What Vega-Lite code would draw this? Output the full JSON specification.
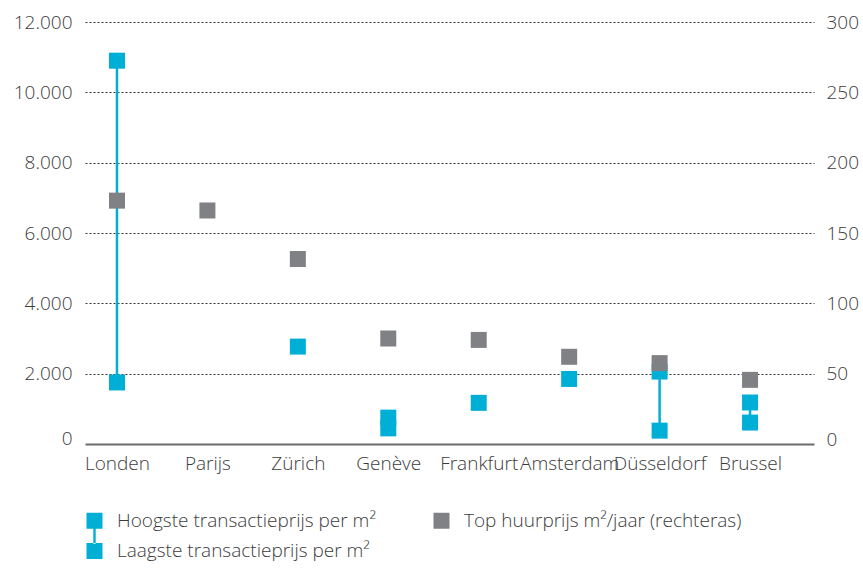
{
  "$schema": "https://vega.github.io/schema/vega-lite/v6.json",
  "autosize": {"type": "none"},
  "padding": {"left": 85, "top": 22, "right": 49, "bottom": 124},
  "width": 729,
  "height": 422,
  "background": "white",
  "config": {
    "font": "Open Sans",
    "view": {"stroke": null},
    "axis": {"labelFont": "Open Sans", "labelFontSize": 19, "labelFontWeight": 300, "labelColor": "#3c3c3c", "ticks": false, "title": null},
    "legend": {"labelFont": "Open Sans", "labelFontSize": 19, "labelFontWeight": 300, "labelColor": "#3c3c3c"}
  },
  "data": {
    "values": [
      {"stad": "Londen", "hoog": 10900, "laag": 1750, "huur": 173},
      {"stad": "Parijs", "hoog": null, "laag": null, "huur": 166},
      {"stad": "Zürich", "hoog": 2770, "laag": null, "huur": 131.5},
      {"stad": "Genève", "hoog": 750, "laag": 445, "huur": 75},
      {"stad": "Frankfurt", "hoog": 1170, "laag": null, "huur": 74},
      {"stad": "Amsterdam", "hoog": 1850, "laag": null, "huur": 62},
      {"stad": "Düsseldorf", "hoog": 2060, "laag": 380, "huur": 57.5},
      {"stad": "Brussel", "hoog": 1180, "laag": 610, "huur": 45.6}
    ]
  },
  "encoding": {
    "x": {
      "field": "stad",
      "type": "nominal",
      "scale": {
        "type": "point",
        "domain": ["Londen", "Parijs", "Zürich", "Genève", "Frankfurt", "Amsterdam", "Düsseldorf", "Brussel"],
        "padding": 0.5304,
        "align": 0.3333
      },
      "axis": {
        "labelAngle": 0,
        "labelPadding": 10,
        "domain": false,
        "grid": false
      }
    }
  },
  "layer": [
    {
      "layer": [
        {
          "transform": [
            {"fold": ["hoog", "huur", "laag"], "as": ["reeks", "waarde"]},
            {"filter": "datum.stad === 'Londen'"}
          ],
          "mark": {"type": "point", "filled": true, "size": 256, "opacity": 0, "strokeWidth": 0},
          "encoding": {
            "y": {"field": "waarde", "type": "quantitative"},
            "color": {
              "field": "reeks",
              "type": "nominal",
              "scale": {"domain": ["hoog", "huur", "laag"], "range": ["#00AFD5", "#808185", "#00AFD5"]},
              "legend": {
                "title": null,
                "orient": "none",
                "legendX": 0,
                "legendY": 489,
                "columns": 2,
                "direction": "horizontal",
                "columnPadding": 56,
                "rowPadding": -4.5,
                "symbolSize": 256,
                "symbolOpacity": 1,
                "symbolStrokeWidth": 0,
                "labelOffset": 13,
                "labelLimit": 0,
                "labelExpr": "datum.value === 'hoog' ? 'Hoogste transactieprijs per m²' : datum.value === 'huur' ? 'Top huurprijs m²/jaar (rechteras)' : 'Laagste transactieprijs per m²'"
              }
            },
            "shape": {
              "field": "reeks",
              "type": "nominal",
              "scale": {"domain": ["hoog", "huur", "laag"], "range": ["square", "square", "M-1,-1H1V1H-1Z M-0.15,-0.9H0.15V-2.95H-0.15Z"]},
              "legend": {
                "title": null,
                "orient": "none",
                "legendX": 0,
                "legendY": 489,
                "columns": 2,
                "direction": "horizontal",
                "columnPadding": 56,
                "rowPadding": -4.5,
                "symbolSize": 256,
                "symbolOpacity": 1,
                "symbolStrokeWidth": 0,
                "labelOffset": 13,
                "labelLimit": 0,
                "labelExpr": "datum.value === 'hoog' ? 'Hoogste transactieprijs per m²' : datum.value === 'huur' ? 'Top huurprijs m²/jaar (rechteras)' : 'Laagste transactieprijs per m²'"
              }
            }
          }
        },
        {
          "transform": [{"filter": "isValid(datum.hoog) && isValid(datum.laag)"}],
          "mark": {"type": "rule", "color": "#00AFD5", "strokeWidth": 2.5},
          "encoding": {
            "y": {"field": "hoog", "type": "quantitative"},
            "y2": {"field": "laag"}
          }
        },
        {
          "transform": [
            {"fold": ["hoog", "laag"], "as": ["reeks", "waarde"]},
            {"filter": "isValid(datum.waarde)"}
          ],
          "mark": {"type": "square", "size": 256, "opacity": 1, "strokeWidth": 0},
          "encoding": {
            "y": {
              "field": "waarde",
              "type": "quantitative",
              "scale": {"domain": [0, 12000], "nice": false},
              "axis": {
                "orient": "left",
                "values": [0, 2000, 4000, 6000, 8000, 10000, 12000],
                "labelExpr": "replace(format(datum.value, ','), ',', '.')",
                "labelPadding": 13,
                "labelOffset": {"condition": {"test": "datum.value === 0", "value": -6}, "value": 0},
                "domain": false,
                "grid": true,
                "gridColor": {"condition": {"test": "datum.value === 0", "value": "#6b6b6b"}, "value": "#333333"},
                "gridDash": {"condition": {"test": "datum.value === 0", "value": []}, "value": [2, 2]},
                "gridWidth": {"condition": {"test": "datum.value === 0", "value": 2}, "value": 1}
              }
            },
            "color": {"field": "reeks", "type": "nominal", "legend": null}
          }
        }
      ]
    },
    {
      "transform": [
        {"fold": ["huur"], "as": ["reeks", "waarde"]},
        {"filter": "isValid(datum.waarde)"}
      ],
      "mark": {"type": "square", "size": 256, "opacity": 1, "strokeWidth": 0},
      "encoding": {
        "y": {
          "field": "waarde",
          "type": "quantitative",
          "scale": {"domain": [0, 300], "nice": false},
          "axis": {
            "orient": "right",
            "values": [0, 50, 100, 150, 200, 250, 300],
            "labelPadding": 12,
            "labelOffset": {"condition": {"test": "datum.value === 0", "value": -5}, "value": 0},
            "domain": false,
            "grid": false
          }
        },
        "color": {"field": "reeks", "type": "nominal", "legend": null}
      }
    }
  ],
  "resolve": {"scale": {"y": "independent"}}
}
